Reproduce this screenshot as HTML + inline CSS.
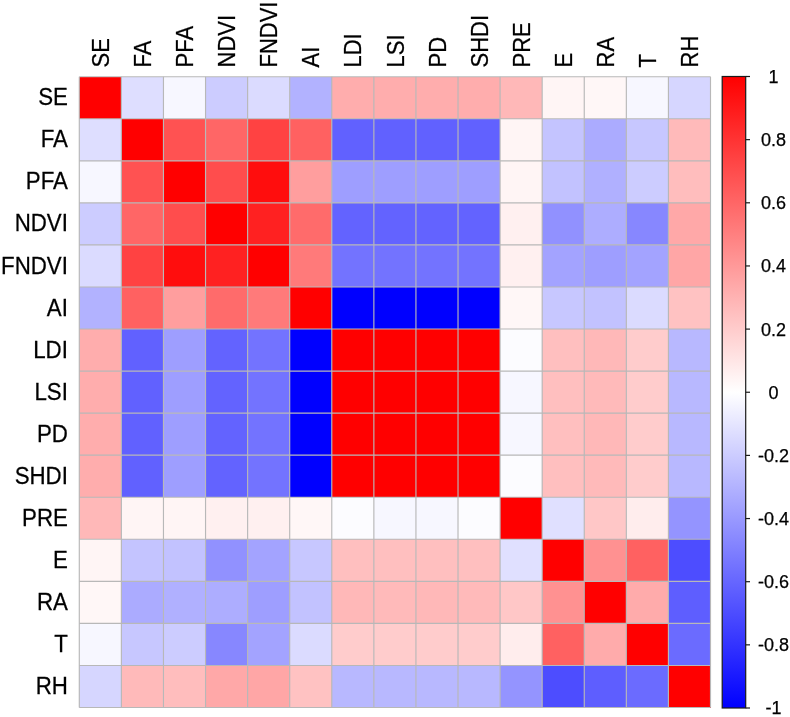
<!DOCTYPE html><html><head><meta charset="utf-8"><title>Correlation heatmap</title>
<style>html,body{margin:0;padding:0;background:#fff}svg{display:block}text{font-family:"Liberation Sans",Arial,sans-serif;fill:#000;stroke:#000;stroke-width:0.25px}</style></head><body>
<svg width="790" height="717" viewBox="0 0 790 717">
<defs><linearGradient id="cb" x1="0" y1="0" x2="0" y2="1"><stop offset="0" stop-color="#ff0000"/><stop offset="0.5" stop-color="#ffffff"/><stop offset="1" stop-color="#0000ff"/></linearGradient></defs>
<rect width="790" height="717" fill="#fff"/>
<g shape-rendering="crispEdges">
<rect x="79.30" y="76.70" width="42.38" height="42.35" fill="#ff0000"/>
<rect x="121.38" y="76.70" width="42.38" height="42.35" fill="#dedeff"/>
<rect x="163.46" y="76.70" width="42.38" height="42.35" fill="#f7f7ff"/>
<rect x="205.54" y="76.70" width="42.38" height="42.35" fill="#ccccff"/>
<rect x="247.62" y="76.70" width="42.38" height="42.35" fill="#dbdbff"/>
<rect x="289.70" y="76.70" width="42.38" height="42.35" fill="#b2b2ff"/>
<rect x="331.78" y="76.70" width="42.38" height="42.35" fill="#ffadad"/>
<rect x="373.86" y="76.70" width="42.38" height="42.35" fill="#ffadad"/>
<rect x="415.94" y="76.70" width="42.38" height="42.35" fill="#ffadad"/>
<rect x="458.02" y="76.70" width="42.38" height="42.35" fill="#ffadad"/>
<rect x="500.10" y="76.70" width="42.38" height="42.35" fill="#ffb8b8"/>
<rect x="542.18" y="76.70" width="42.38" height="42.35" fill="#fff5f5"/>
<rect x="584.26" y="76.70" width="42.38" height="42.35" fill="#fff7f7"/>
<rect x="626.34" y="76.70" width="42.38" height="42.35" fill="#f7f7ff"/>
<rect x="668.42" y="76.70" width="42.38" height="42.35" fill="#d6d6ff"/>
<rect x="79.30" y="118.75" width="42.38" height="42.35" fill="#dedeff"/>
<rect x="121.38" y="118.75" width="42.38" height="42.35" fill="#ff0000"/>
<rect x="163.46" y="118.75" width="42.38" height="42.35" fill="#ff5252"/>
<rect x="205.54" y="118.75" width="42.38" height="42.35" fill="#ff6666"/>
<rect x="247.62" y="118.75" width="42.38" height="42.35" fill="#ff4242"/>
<rect x="289.70" y="118.75" width="42.38" height="42.35" fill="#ff6161"/>
<rect x="331.78" y="118.75" width="42.38" height="42.35" fill="#6161ff"/>
<rect x="373.86" y="118.75" width="42.38" height="42.35" fill="#6161ff"/>
<rect x="415.94" y="118.75" width="42.38" height="42.35" fill="#6161ff"/>
<rect x="458.02" y="118.75" width="42.38" height="42.35" fill="#6161ff"/>
<rect x="500.10" y="118.75" width="42.38" height="42.35" fill="#fff5f5"/>
<rect x="542.18" y="118.75" width="42.38" height="42.35" fill="#c4c4ff"/>
<rect x="584.26" y="118.75" width="42.38" height="42.35" fill="#ababff"/>
<rect x="626.34" y="118.75" width="42.38" height="42.35" fill="#c7c7ff"/>
<rect x="668.42" y="118.75" width="42.38" height="42.35" fill="#ffbaba"/>
<rect x="79.30" y="160.81" width="42.38" height="42.35" fill="#f7f7ff"/>
<rect x="121.38" y="160.81" width="42.38" height="42.35" fill="#ff5252"/>
<rect x="163.46" y="160.81" width="42.38" height="42.35" fill="#ff0000"/>
<rect x="205.54" y="160.81" width="42.38" height="42.35" fill="#ff4d4d"/>
<rect x="247.62" y="160.81" width="42.38" height="42.35" fill="#ff0d0d"/>
<rect x="289.70" y="160.81" width="42.38" height="42.35" fill="#ff9e9e"/>
<rect x="331.78" y="160.81" width="42.38" height="42.35" fill="#9e9eff"/>
<rect x="373.86" y="160.81" width="42.38" height="42.35" fill="#9e9eff"/>
<rect x="415.94" y="160.81" width="42.38" height="42.35" fill="#9e9eff"/>
<rect x="458.02" y="160.81" width="42.38" height="42.35" fill="#9e9eff"/>
<rect x="500.10" y="160.81" width="42.38" height="42.35" fill="#fff5f5"/>
<rect x="542.18" y="160.81" width="42.38" height="42.35" fill="#c2c2ff"/>
<rect x="584.26" y="160.81" width="42.38" height="42.35" fill="#b0b0ff"/>
<rect x="626.34" y="160.81" width="42.38" height="42.35" fill="#ccccff"/>
<rect x="668.42" y="160.81" width="42.38" height="42.35" fill="#ffbdbd"/>
<rect x="79.30" y="202.86" width="42.38" height="42.35" fill="#ccccff"/>
<rect x="121.38" y="202.86" width="42.38" height="42.35" fill="#ff6666"/>
<rect x="163.46" y="202.86" width="42.38" height="42.35" fill="#ff4d4d"/>
<rect x="205.54" y="202.86" width="42.38" height="42.35" fill="#ff0000"/>
<rect x="247.62" y="202.86" width="42.38" height="42.35" fill="#ff2121"/>
<rect x="289.70" y="202.86" width="42.38" height="42.35" fill="#ff6b6b"/>
<rect x="331.78" y="202.86" width="42.38" height="42.35" fill="#6363ff"/>
<rect x="373.86" y="202.86" width="42.38" height="42.35" fill="#6363ff"/>
<rect x="415.94" y="202.86" width="42.38" height="42.35" fill="#6363ff"/>
<rect x="458.02" y="202.86" width="42.38" height="42.35" fill="#6363ff"/>
<rect x="500.10" y="202.86" width="42.38" height="42.35" fill="#fff0f0"/>
<rect x="542.18" y="202.86" width="42.38" height="42.35" fill="#9191ff"/>
<rect x="584.26" y="202.86" width="42.38" height="42.35" fill="#adadff"/>
<rect x="626.34" y="202.86" width="42.38" height="42.35" fill="#8787ff"/>
<rect x="668.42" y="202.86" width="42.38" height="42.35" fill="#ffa8a8"/>
<rect x="79.30" y="244.91" width="42.38" height="42.35" fill="#dbdbff"/>
<rect x="121.38" y="244.91" width="42.38" height="42.35" fill="#ff4242"/>
<rect x="163.46" y="244.91" width="42.38" height="42.35" fill="#ff0d0d"/>
<rect x="205.54" y="244.91" width="42.38" height="42.35" fill="#ff2121"/>
<rect x="247.62" y="244.91" width="42.38" height="42.35" fill="#ff0000"/>
<rect x="289.70" y="244.91" width="42.38" height="42.35" fill="#ff7a7a"/>
<rect x="331.78" y="244.91" width="42.38" height="42.35" fill="#7373ff"/>
<rect x="373.86" y="244.91" width="42.38" height="42.35" fill="#7373ff"/>
<rect x="415.94" y="244.91" width="42.38" height="42.35" fill="#7373ff"/>
<rect x="458.02" y="244.91" width="42.38" height="42.35" fill="#7373ff"/>
<rect x="500.10" y="244.91" width="42.38" height="42.35" fill="#fff0f0"/>
<rect x="542.18" y="244.91" width="42.38" height="42.35" fill="#a3a3ff"/>
<rect x="584.26" y="244.91" width="42.38" height="42.35" fill="#9e9eff"/>
<rect x="626.34" y="244.91" width="42.38" height="42.35" fill="#a3a3ff"/>
<rect x="668.42" y="244.91" width="42.38" height="42.35" fill="#ffa6a6"/>
<rect x="79.30" y="286.97" width="42.38" height="42.35" fill="#b2b2ff"/>
<rect x="121.38" y="286.97" width="42.38" height="42.35" fill="#ff6161"/>
<rect x="163.46" y="286.97" width="42.38" height="42.35" fill="#ff9e9e"/>
<rect x="205.54" y="286.97" width="42.38" height="42.35" fill="#ff6b6b"/>
<rect x="247.62" y="286.97" width="42.38" height="42.35" fill="#ff7a7a"/>
<rect x="289.70" y="286.97" width="42.38" height="42.35" fill="#ff0000"/>
<rect x="331.78" y="286.97" width="42.38" height="42.35" fill="#0000ff"/>
<rect x="373.86" y="286.97" width="42.38" height="42.35" fill="#0000ff"/>
<rect x="415.94" y="286.97" width="42.38" height="42.35" fill="#0000ff"/>
<rect x="458.02" y="286.97" width="42.38" height="42.35" fill="#0000ff"/>
<rect x="500.10" y="286.97" width="42.38" height="42.35" fill="#fff7f7"/>
<rect x="542.18" y="286.97" width="42.38" height="42.35" fill="#c7c7ff"/>
<rect x="584.26" y="286.97" width="42.38" height="42.35" fill="#c2c2ff"/>
<rect x="626.34" y="286.97" width="42.38" height="42.35" fill="#dbdbff"/>
<rect x="668.42" y="286.97" width="42.38" height="42.35" fill="#ffc2c2"/>
<rect x="79.30" y="329.02" width="42.38" height="42.35" fill="#ffadad"/>
<rect x="121.38" y="329.02" width="42.38" height="42.35" fill="#6161ff"/>
<rect x="163.46" y="329.02" width="42.38" height="42.35" fill="#9e9eff"/>
<rect x="205.54" y="329.02" width="42.38" height="42.35" fill="#6363ff"/>
<rect x="247.62" y="329.02" width="42.38" height="42.35" fill="#7373ff"/>
<rect x="289.70" y="329.02" width="42.38" height="42.35" fill="#0000ff"/>
<rect x="331.78" y="329.02" width="42.38" height="42.35" fill="#ff0000"/>
<rect x="373.86" y="329.02" width="42.38" height="42.35" fill="#ff0000"/>
<rect x="415.94" y="329.02" width="42.38" height="42.35" fill="#ff0000"/>
<rect x="458.02" y="329.02" width="42.38" height="42.35" fill="#ff0000"/>
<rect x="500.10" y="329.02" width="42.38" height="42.35" fill="#fcfcff"/>
<rect x="542.18" y="329.02" width="42.38" height="42.35" fill="#ffbfbf"/>
<rect x="584.26" y="329.02" width="42.38" height="42.35" fill="#ffb8b8"/>
<rect x="626.34" y="329.02" width="42.38" height="42.35" fill="#ffcccc"/>
<rect x="668.42" y="329.02" width="42.38" height="42.35" fill="#b8b8ff"/>
<rect x="79.30" y="371.07" width="42.38" height="42.35" fill="#ffadad"/>
<rect x="121.38" y="371.07" width="42.38" height="42.35" fill="#6161ff"/>
<rect x="163.46" y="371.07" width="42.38" height="42.35" fill="#9e9eff"/>
<rect x="205.54" y="371.07" width="42.38" height="42.35" fill="#6363ff"/>
<rect x="247.62" y="371.07" width="42.38" height="42.35" fill="#7373ff"/>
<rect x="289.70" y="371.07" width="42.38" height="42.35" fill="#0000ff"/>
<rect x="331.78" y="371.07" width="42.38" height="42.35" fill="#ff0000"/>
<rect x="373.86" y="371.07" width="42.38" height="42.35" fill="#ff0000"/>
<rect x="415.94" y="371.07" width="42.38" height="42.35" fill="#ff0000"/>
<rect x="458.02" y="371.07" width="42.38" height="42.35" fill="#ff0000"/>
<rect x="500.10" y="371.07" width="42.38" height="42.35" fill="#f7f7ff"/>
<rect x="542.18" y="371.07" width="42.38" height="42.35" fill="#ffbfbf"/>
<rect x="584.26" y="371.07" width="42.38" height="42.35" fill="#ffbaba"/>
<rect x="626.34" y="371.07" width="42.38" height="42.35" fill="#ffcccc"/>
<rect x="668.42" y="371.07" width="42.38" height="42.35" fill="#b8b8ff"/>
<rect x="79.30" y="413.13" width="42.38" height="42.35" fill="#ffadad"/>
<rect x="121.38" y="413.13" width="42.38" height="42.35" fill="#6161ff"/>
<rect x="163.46" y="413.13" width="42.38" height="42.35" fill="#9e9eff"/>
<rect x="205.54" y="413.13" width="42.38" height="42.35" fill="#6363ff"/>
<rect x="247.62" y="413.13" width="42.38" height="42.35" fill="#7373ff"/>
<rect x="289.70" y="413.13" width="42.38" height="42.35" fill="#0000ff"/>
<rect x="331.78" y="413.13" width="42.38" height="42.35" fill="#ff0000"/>
<rect x="373.86" y="413.13" width="42.38" height="42.35" fill="#ff0000"/>
<rect x="415.94" y="413.13" width="42.38" height="42.35" fill="#ff0000"/>
<rect x="458.02" y="413.13" width="42.38" height="42.35" fill="#ff0000"/>
<rect x="500.10" y="413.13" width="42.38" height="42.35" fill="#f7f7ff"/>
<rect x="542.18" y="413.13" width="42.38" height="42.35" fill="#ffbfbf"/>
<rect x="584.26" y="413.13" width="42.38" height="42.35" fill="#ffb8b8"/>
<rect x="626.34" y="413.13" width="42.38" height="42.35" fill="#ffcccc"/>
<rect x="668.42" y="413.13" width="42.38" height="42.35" fill="#b8b8ff"/>
<rect x="79.30" y="455.18" width="42.38" height="42.35" fill="#ffadad"/>
<rect x="121.38" y="455.18" width="42.38" height="42.35" fill="#6161ff"/>
<rect x="163.46" y="455.18" width="42.38" height="42.35" fill="#9e9eff"/>
<rect x="205.54" y="455.18" width="42.38" height="42.35" fill="#6363ff"/>
<rect x="247.62" y="455.18" width="42.38" height="42.35" fill="#7373ff"/>
<rect x="289.70" y="455.18" width="42.38" height="42.35" fill="#0000ff"/>
<rect x="331.78" y="455.18" width="42.38" height="42.35" fill="#ff0000"/>
<rect x="373.86" y="455.18" width="42.38" height="42.35" fill="#ff0000"/>
<rect x="415.94" y="455.18" width="42.38" height="42.35" fill="#ff0000"/>
<rect x="458.02" y="455.18" width="42.38" height="42.35" fill="#ff0000"/>
<rect x="500.10" y="455.18" width="42.38" height="42.35" fill="#fcfcff"/>
<rect x="542.18" y="455.18" width="42.38" height="42.35" fill="#ffbfbf"/>
<rect x="584.26" y="455.18" width="42.38" height="42.35" fill="#ffbaba"/>
<rect x="626.34" y="455.18" width="42.38" height="42.35" fill="#ffcccc"/>
<rect x="668.42" y="455.18" width="42.38" height="42.35" fill="#b8b8ff"/>
<rect x="79.30" y="497.23" width="42.38" height="42.35" fill="#ffb8b8"/>
<rect x="121.38" y="497.23" width="42.38" height="42.35" fill="#fff5f5"/>
<rect x="163.46" y="497.23" width="42.38" height="42.35" fill="#fff5f5"/>
<rect x="205.54" y="497.23" width="42.38" height="42.35" fill="#fff0f0"/>
<rect x="247.62" y="497.23" width="42.38" height="42.35" fill="#fff0f0"/>
<rect x="289.70" y="497.23" width="42.38" height="42.35" fill="#fff7f7"/>
<rect x="331.78" y="497.23" width="42.38" height="42.35" fill="#fcfcff"/>
<rect x="373.86" y="497.23" width="42.38" height="42.35" fill="#f7f7ff"/>
<rect x="415.94" y="497.23" width="42.38" height="42.35" fill="#f7f7ff"/>
<rect x="458.02" y="497.23" width="42.38" height="42.35" fill="#fcfcff"/>
<rect x="500.10" y="497.23" width="42.38" height="42.35" fill="#ff0000"/>
<rect x="542.18" y="497.23" width="42.38" height="42.35" fill="#e0e0ff"/>
<rect x="584.26" y="497.23" width="42.38" height="42.35" fill="#ffc7c7"/>
<rect x="626.34" y="497.23" width="42.38" height="42.35" fill="#ffeded"/>
<rect x="668.42" y="497.23" width="42.38" height="42.35" fill="#9494ff"/>
<rect x="79.30" y="539.29" width="42.38" height="42.35" fill="#fff5f5"/>
<rect x="121.38" y="539.29" width="42.38" height="42.35" fill="#c4c4ff"/>
<rect x="163.46" y="539.29" width="42.38" height="42.35" fill="#c2c2ff"/>
<rect x="205.54" y="539.29" width="42.38" height="42.35" fill="#9191ff"/>
<rect x="247.62" y="539.29" width="42.38" height="42.35" fill="#a3a3ff"/>
<rect x="289.70" y="539.29" width="42.38" height="42.35" fill="#c7c7ff"/>
<rect x="331.78" y="539.29" width="42.38" height="42.35" fill="#ffbfbf"/>
<rect x="373.86" y="539.29" width="42.38" height="42.35" fill="#ffbfbf"/>
<rect x="415.94" y="539.29" width="42.38" height="42.35" fill="#ffbfbf"/>
<rect x="458.02" y="539.29" width="42.38" height="42.35" fill="#ffbfbf"/>
<rect x="500.10" y="539.29" width="42.38" height="42.35" fill="#e0e0ff"/>
<rect x="542.18" y="539.29" width="42.38" height="42.35" fill="#ff0000"/>
<rect x="584.26" y="539.29" width="42.38" height="42.35" fill="#ff9191"/>
<rect x="626.34" y="539.29" width="42.38" height="42.35" fill="#ff6161"/>
<rect x="668.42" y="539.29" width="42.38" height="42.35" fill="#4d4dff"/>
<rect x="79.30" y="581.34" width="42.38" height="42.35" fill="#fff7f7"/>
<rect x="121.38" y="581.34" width="42.38" height="42.35" fill="#ababff"/>
<rect x="163.46" y="581.34" width="42.38" height="42.35" fill="#b0b0ff"/>
<rect x="205.54" y="581.34" width="42.38" height="42.35" fill="#adadff"/>
<rect x="247.62" y="581.34" width="42.38" height="42.35" fill="#9e9eff"/>
<rect x="289.70" y="581.34" width="42.38" height="42.35" fill="#c2c2ff"/>
<rect x="331.78" y="581.34" width="42.38" height="42.35" fill="#ffb8b8"/>
<rect x="373.86" y="581.34" width="42.38" height="42.35" fill="#ffbaba"/>
<rect x="415.94" y="581.34" width="42.38" height="42.35" fill="#ffb8b8"/>
<rect x="458.02" y="581.34" width="42.38" height="42.35" fill="#ffbaba"/>
<rect x="500.10" y="581.34" width="42.38" height="42.35" fill="#ffc7c7"/>
<rect x="542.18" y="581.34" width="42.38" height="42.35" fill="#ff9191"/>
<rect x="584.26" y="581.34" width="42.38" height="42.35" fill="#ff0000"/>
<rect x="626.34" y="581.34" width="42.38" height="42.35" fill="#ffabab"/>
<rect x="668.42" y="581.34" width="42.38" height="42.35" fill="#5e5eff"/>
<rect x="79.30" y="623.39" width="42.38" height="42.35" fill="#f7f7ff"/>
<rect x="121.38" y="623.39" width="42.38" height="42.35" fill="#c7c7ff"/>
<rect x="163.46" y="623.39" width="42.38" height="42.35" fill="#ccccff"/>
<rect x="205.54" y="623.39" width="42.38" height="42.35" fill="#8787ff"/>
<rect x="247.62" y="623.39" width="42.38" height="42.35" fill="#a3a3ff"/>
<rect x="289.70" y="623.39" width="42.38" height="42.35" fill="#dbdbff"/>
<rect x="331.78" y="623.39" width="42.38" height="42.35" fill="#ffcccc"/>
<rect x="373.86" y="623.39" width="42.38" height="42.35" fill="#ffcccc"/>
<rect x="415.94" y="623.39" width="42.38" height="42.35" fill="#ffcccc"/>
<rect x="458.02" y="623.39" width="42.38" height="42.35" fill="#ffcccc"/>
<rect x="500.10" y="623.39" width="42.38" height="42.35" fill="#ffeded"/>
<rect x="542.18" y="623.39" width="42.38" height="42.35" fill="#ff6161"/>
<rect x="584.26" y="623.39" width="42.38" height="42.35" fill="#ffabab"/>
<rect x="626.34" y="623.39" width="42.38" height="42.35" fill="#ff0000"/>
<rect x="668.42" y="623.39" width="42.38" height="42.35" fill="#6b6bff"/>
<rect x="79.30" y="665.45" width="42.38" height="42.35" fill="#d6d6ff"/>
<rect x="121.38" y="665.45" width="42.38" height="42.35" fill="#ffbaba"/>
<rect x="163.46" y="665.45" width="42.38" height="42.35" fill="#ffbdbd"/>
<rect x="205.54" y="665.45" width="42.38" height="42.35" fill="#ffa8a8"/>
<rect x="247.62" y="665.45" width="42.38" height="42.35" fill="#ffa6a6"/>
<rect x="289.70" y="665.45" width="42.38" height="42.35" fill="#ffc2c2"/>
<rect x="331.78" y="665.45" width="42.38" height="42.35" fill="#b8b8ff"/>
<rect x="373.86" y="665.45" width="42.38" height="42.35" fill="#b8b8ff"/>
<rect x="415.94" y="665.45" width="42.38" height="42.35" fill="#b8b8ff"/>
<rect x="458.02" y="665.45" width="42.38" height="42.35" fill="#b8b8ff"/>
<rect x="500.10" y="665.45" width="42.38" height="42.35" fill="#9494ff"/>
<rect x="542.18" y="665.45" width="42.38" height="42.35" fill="#4d4dff"/>
<rect x="584.26" y="665.45" width="42.38" height="42.35" fill="#5e5eff"/>
<rect x="626.34" y="665.45" width="42.38" height="42.35" fill="#6b6bff"/>
<rect x="668.42" y="665.45" width="42.38" height="42.35" fill="#ff0000"/>
</g>
<g stroke="#b8b8b8" stroke-width="1.15" fill="none">
<line x1="79.30" y1="76.70" x2="79.30" y2="707.50"/>
<line x1="79.30" y1="76.70" x2="710.50" y2="76.70"/>
<line x1="121.38" y1="76.70" x2="121.38" y2="707.50"/>
<line x1="79.30" y1="118.75" x2="710.50" y2="118.75"/>
<line x1="163.46" y1="76.70" x2="163.46" y2="707.50"/>
<line x1="79.30" y1="160.81" x2="710.50" y2="160.81"/>
<line x1="205.54" y1="76.70" x2="205.54" y2="707.50"/>
<line x1="79.30" y1="202.86" x2="710.50" y2="202.86"/>
<line x1="247.62" y1="76.70" x2="247.62" y2="707.50"/>
<line x1="79.30" y1="244.91" x2="710.50" y2="244.91"/>
<line x1="289.70" y1="76.70" x2="289.70" y2="707.50"/>
<line x1="79.30" y1="286.97" x2="710.50" y2="286.97"/>
<line x1="331.78" y1="76.70" x2="331.78" y2="707.50"/>
<line x1="79.30" y1="329.02" x2="710.50" y2="329.02"/>
<line x1="373.86" y1="76.70" x2="373.86" y2="707.50"/>
<line x1="79.30" y1="371.07" x2="710.50" y2="371.07"/>
<line x1="415.94" y1="76.70" x2="415.94" y2="707.50"/>
<line x1="79.30" y1="413.13" x2="710.50" y2="413.13"/>
<line x1="458.02" y1="76.70" x2="458.02" y2="707.50"/>
<line x1="79.30" y1="455.18" x2="710.50" y2="455.18"/>
<line x1="500.10" y1="76.70" x2="500.10" y2="707.50"/>
<line x1="79.30" y1="497.23" x2="710.50" y2="497.23"/>
<line x1="542.18" y1="76.70" x2="542.18" y2="707.50"/>
<line x1="79.30" y1="539.29" x2="710.50" y2="539.29"/>
<line x1="584.26" y1="76.70" x2="584.26" y2="707.50"/>
<line x1="79.30" y1="581.34" x2="710.50" y2="581.34"/>
<line x1="626.34" y1="76.70" x2="626.34" y2="707.50"/>
<line x1="79.30" y1="623.39" x2="710.50" y2="623.39"/>
<line x1="668.42" y1="76.70" x2="668.42" y2="707.50"/>
<line x1="79.30" y1="665.45" x2="710.50" y2="665.45"/>
<line x1="710.50" y1="76.70" x2="710.50" y2="707.50"/>
<line x1="79.30" y1="707.50" x2="710.50" y2="707.50"/>
</g>
<g font-size="22.3" text-anchor="end">
<text transform="translate(67.9,105.33) scale(1,1.065)">SE</text>
<text transform="translate(67.9,147.38) scale(1,1.065)">FA</text>
<text transform="translate(67.9,189.43) scale(1,1.065)">PFA</text>
<text transform="translate(67.9,231.49) scale(1,1.065)">NDVI</text>
<text transform="translate(67.9,273.54) scale(1,1.065)">FNDVI</text>
<text transform="translate(67.9,315.59) scale(1,1.065)">AI</text>
<text transform="translate(67.9,357.65) scale(1,1.065)">LDI</text>
<text transform="translate(67.9,399.70) scale(1,1.065)">LSI</text>
<text transform="translate(67.9,441.75) scale(1,1.065)">PD</text>
<text transform="translate(67.9,483.81) scale(1,1.065)">SHDI</text>
<text transform="translate(67.9,525.86) scale(1,1.065)">PRE</text>
<text transform="translate(67.9,567.91) scale(1,1.065)">E</text>
<text transform="translate(67.9,609.97) scale(1,1.065)">RA</text>
<text transform="translate(67.9,652.02) scale(1,1.065)">T</text>
<text transform="translate(67.9,694.07) scale(1,1.065)">RH</text>
</g>
<g font-size="22" text-anchor="start">
<text transform="translate(108.94,67.5) rotate(-90) scale(1,1.1)">SE</text>
<text transform="translate(151.02,67.5) rotate(-90) scale(1,1.1)">FA</text>
<text transform="translate(193.10,67.5) rotate(-90) scale(1,1.1)">PFA</text>
<text transform="translate(235.18,67.5) rotate(-90) scale(1,1.1)">NDVI</text>
<text transform="translate(277.26,67.5) rotate(-90) scale(1,1.1)">FNDVI</text>
<text transform="translate(319.34,67.5) rotate(-90) scale(1,1.1)">AI</text>
<text transform="translate(361.42,67.5) rotate(-90) scale(1,1.1)">LDI</text>
<text transform="translate(403.50,67.5) rotate(-90) scale(1,1.1)">LSI</text>
<text transform="translate(445.58,67.5) rotate(-90) scale(1,1.1)">PD</text>
<text transform="translate(487.66,67.5) rotate(-90) scale(1,1.1)">SHDI</text>
<text transform="translate(529.74,67.5) rotate(-90) scale(1,1.1)">PRE</text>
<text transform="translate(571.82,67.5) rotate(-90) scale(1,1.1)">E</text>
<text transform="translate(613.90,67.5) rotate(-90) scale(1,1.1)">RA</text>
<text transform="translate(655.98,67.5) rotate(-90) scale(1,1.1)">T</text>
<text transform="translate(698.06,67.5) rotate(-90) scale(1,1.1)">RH</text>
</g>
<rect x="722.2" y="76.5" width="23.5" height="631.5" fill="url(#cb)" stroke="#1a1a1a" stroke-width="1.2"/>
<g stroke="#1a1a1a" stroke-width="1.2">
<line x1="745.7" y1="76.50" x2="750" y2="76.50"/>
<line x1="745.7" y1="139.65" x2="750" y2="139.65"/>
<line x1="745.7" y1="202.80" x2="750" y2="202.80"/>
<line x1="745.7" y1="265.95" x2="750" y2="265.95"/>
<line x1="745.7" y1="329.10" x2="750" y2="329.10"/>
<line x1="745.7" y1="392.25" x2="750" y2="392.25"/>
<line x1="745.7" y1="455.40" x2="750" y2="455.40"/>
<line x1="745.7" y1="518.55" x2="750" y2="518.55"/>
<line x1="745.7" y1="581.70" x2="750" y2="581.70"/>
<line x1="745.7" y1="644.85" x2="750" y2="644.85"/>
<line x1="745.7" y1="708.00" x2="750" y2="708.00"/>
</g>
<g font-size="18" text-anchor="middle">
<text x="773.5" y="82.90">1</text>
<text x="773.5" y="146.05">0.8</text>
<text x="773.5" y="209.20">0.6</text>
<text x="773.5" y="272.35">0.4</text>
<text x="773.5" y="335.50">0.2</text>
<text x="773.5" y="398.65">0</text>
<text x="773.5" y="461.80">-0.2</text>
<text x="773.5" y="524.95">-0.4</text>
<text x="773.5" y="588.10">-0.6</text>
<text x="773.5" y="651.25">-0.8</text>
<text x="773.5" y="714.40">-1</text>
</g>
</svg></body></html>
